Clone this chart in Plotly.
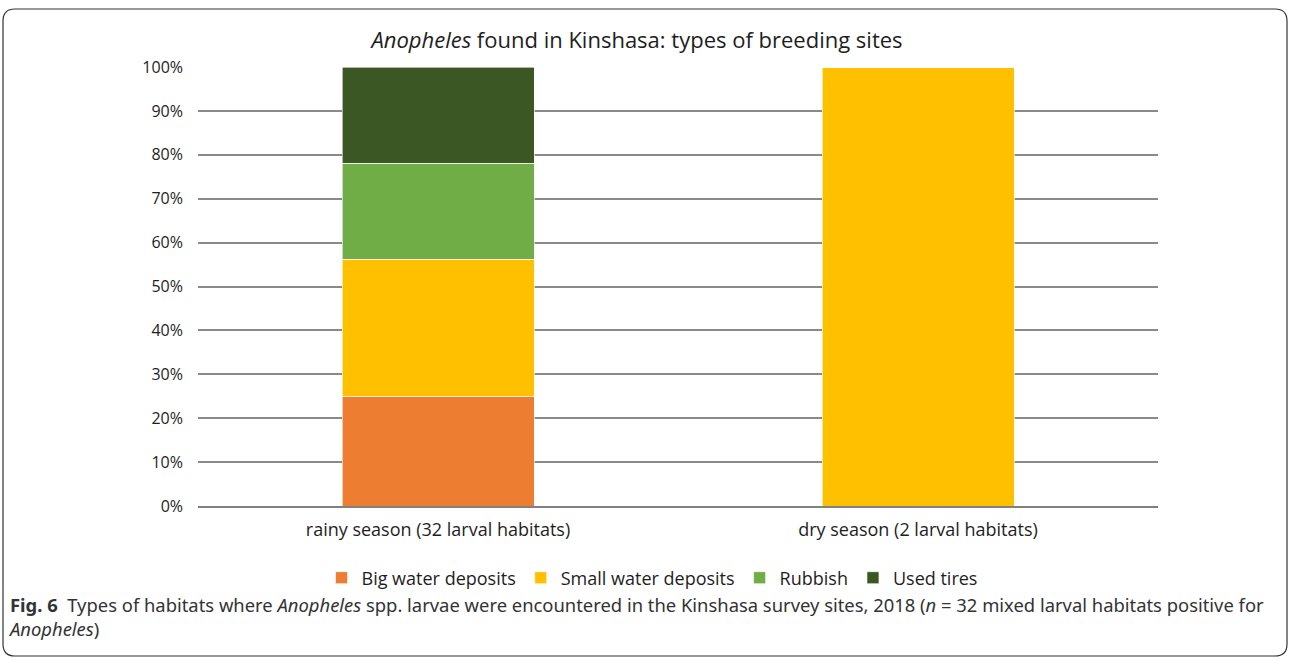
import plotly.graph_objects as go

categories = ["rainy season (32 larval habitats)", "dry season (2 larval habitats)"]
series_names = ["Big water deposits", "Small water deposits", "Rubbish", "Used tires"]
big_water = [0.25, 0.0]
small_water = [0.3125, 1.0]
rubbish = [0.21875, 0.0]
used_tires = [0.21875, 0.0]
y_ticks = [0, 0.1, 0.2, 0.3, 0.4, 0.5, 0.6, 0.7, 0.8, 0.9, 1.0]
y_tick_labels = ["0%", "10%", "20%", "30%", "40%", "50%", "60%", "70%", "80%", "90%", "100%"]
colors = ["#ED7D31", "#FFC000", "#70AD47", "#3A5724"]

W, H = 1290, 660
L, R, T, B = 198, 1158, 67, 506

def px(x):
    return (x - L) / (R - L)

def py(y):
    return (B - y) / (B - T)

fig = go.Figure()
for name, vals, col in zip(series_names, [big_water, small_water, rubbish, used_tires], colors):
    fig.add_trace(go.Bar(
        x=categories, y=vals, name=name,
        marker=dict(color=col, line=dict(color="white", width=0.6)),
    ))

FONT = "Open Sans"
TXT = "#1e1e1e"
fig.update_layout(
    width=W, height=H,
    barmode="stack", bargap=0.6,
    margin=dict(l=L, r=W - R, t=T, b=H - B),
    plot_bgcolor="white", paper_bgcolor="white",
    font=dict(family=FONT, color=TXT, size=16),
    title=dict(text="<i>Anopheles</i> found in Kinshasa: types of breeding sites",
               x=637 / W, xref="container", xanchor="center",
               y=1 - 40 / H, yref="container", yanchor="middle",
               font=dict(family=FONT, size=22, color=TXT)),
    xaxis=dict(showgrid=False, showline=True, linecolor="#808080", linewidth=2,
               ticks="", tickfont=dict(size=18, color=TXT), ticklabelstandoff=6),
    yaxis=dict(range=[0, 1], tickvals=y_ticks, ticktext=y_tick_labels,
               showgrid=True, gridcolor="#8a8a8a", gridwidth=1.6,
               zeroline=False, showline=False, ticks="",
               tickfont=dict(size=16, color=TXT), ticklabelstandoff=14),
    legend=dict(orientation="h", x=px(652), xanchor="center", y=py(578), yanchor="middle",
                font=dict(size=18, color=TXT), itemwidth=30, traceorder="normal",
                tracegroupgap=0),
    showlegend=True,
)

# rounded border
x0, x1, y0, y1, r = px(3), px(1287), py(9), py(656), 12
rx = r / (R - L)
ry = r / (B - T)
path = (f"M {x0},{y1 + ry} L {x0},{y0 - ry} Q {x0},{y0} {x0 + rx},{y0} "
        f"L {x1 - rx},{y0} Q {x1},{y0} {x1},{y0 - ry} L {x1},{y1 + ry} "
        f"Q {x1},{y1} {x1 - rx},{y1} L {x0 + rx},{y1} Q {x0},{y1} {x0},{y1 + ry} Z")
fig.add_shape(type="path", path=path, xref="paper", yref="paper",
              line=dict(color="#333333", width=1.2), fillcolor="rgba(0,0,0,0)", layer="above")

CAP_FONT = dict(family="Noto Sans", size=18.4, color="#333333")
fig.add_annotation(
    text=("<b>Fig. 6</b>  Types of habitats where <i>Anopheles</i> spp. larvae were encountered in the "
          "Kinshasa survey sites, 2018 (<i>n</i> = 32 mixed larval habitats positive for<br>"
          "<i>Anopheles</i>)"),
    x=px(6), y=py(590), xref="paper", yref="paper", xanchor="left", yanchor="top",
    align="left", showarrow=False, font=CAP_FONT,
)

fig.write_html("out.html", config={"displayModeBar": False},
               post_script="document.body.style.margin='0';")
